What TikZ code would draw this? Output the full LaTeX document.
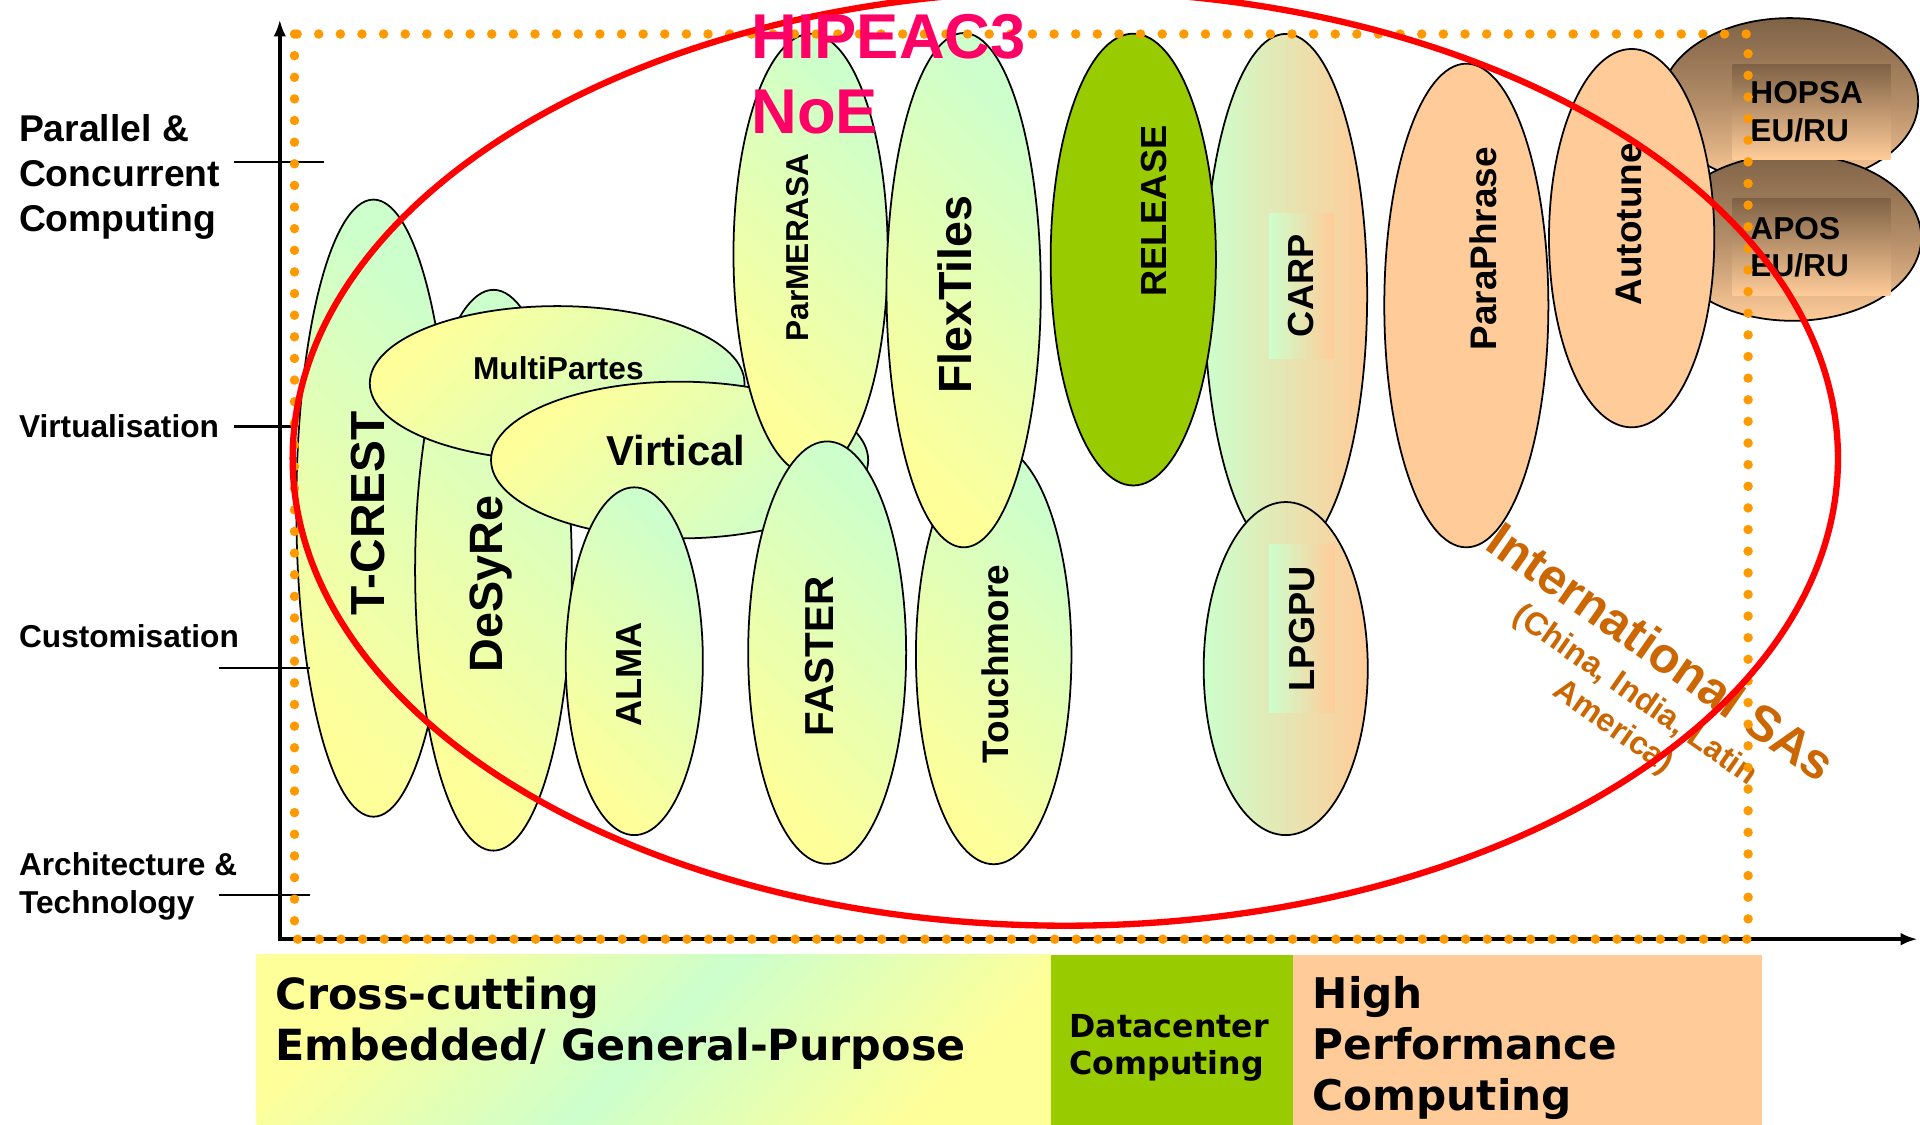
\documentclass[tikz,border=0pt]{standalone}
\usepackage{fontspec}
\setmainfont{Liberation Sans}
\newfontfamily\dvsans{DejaVu Sans}
\usepackage{graphicx}
\usetikzlibrary{shapes.geometric,arrows.meta}

\definecolor{pyellow}{HTML}{FFFF99}
\definecolor{pgreen}{HTML}{CCFFCC}
\definecolor{porange}{HTML}{FFCC99}
\definecolor{dcgreen}{HTML}{99CC00}
\definecolor{pbrown}{HTML}{7F6246}
\definecolor{dotorange}{HTML}{FF9900}
\definecolor{noepink}{HTML}{FF0066}
\definecolor{intlbrown}{HTML}{CC6600}

\newlength{\dpx}
\setlength{\dpx}{0.012245cm}
\newcommand{\fsz}[2]{\fontsize{#1}{#2}\selectfont}

\tikzset{
  sz/.style 2 args={minimum width=#1\dpx, minimum height=#2\dpx},
  proj/.style={ellipse, draw=black, line width=0.5pt, inner sep=0pt},
  vproj/.style={proj, top color=pgreen, bottom color=pyellow, shading angle=-45},
  hproj/.style={proj, top color=pyellow, bottom color=pgreen, shading angle=45},
  mproj/.style={proj, left color=pgreen, right color=porange},
  rproj/.style={proj, fill=dcgreen},
  oproj/.style={proj, fill=porange},
  bproj/.style={proj, top color=pbrown, bottom color=porange, middle color=porange!40!pbrown},
  vlbl/.style={rotate=90, anchor=base, inner sep=0pt, font=\bfseries\fsz{#1}{#1}},
  hlbl/.style={anchor=base, inner sep=0pt, font=\bfseries\fsz{#1}{#1}},
  axlbl/.style 2 args={anchor=north west, inner sep=0pt, align=left, font=\bfseries\fsz{#1}{#2}},
  areabox/.style={rectangle, anchor=north west, inner sep=0pt},
  areatxt/.style 2 args={anchor=north west, inner sep=0pt, align=left, font=\dvsans\bfseries\fsz{#1}{#2}},
  tbox/.style={rectangle, inner sep=0pt, top color=pbrown, bottom color=porange},
  cbox/.style={rectangle, inner sep=0pt, left color=pgreen, right color=porange, font=\bfseries\fsz{10.3}{10.3}},
}

\begin{document}
\begin{tikzpicture}[x=0.012245cm,y=-0.012245cm,>={Latex[length=4.8pt,width=3.6pt]}]
  \useasboundingbox (0,0) rectangle (1568,918);
  \clip (0,0) rectangle (1568,918);

  % areas along the bottom
  \node[areabox, top color=pyellow, bottom color=pyellow, middle color=pgreen, shading angle=45, sz={649}{140}] (embbox) at (209,779) {};
  \node[areabox, fill=dcgreen, sz={197}{140}] (dcbox) at (858,779) {};
  \node[areabox, fill=porange, sz={383.7}{140}] (hpcbox) at (1055,779) {};
  \node[areatxt={12.2}{14.5}] (emb-l) at (224.5,797) {Cross-cutting\\Embedded/ General-Purpose};
  \node[areatxt={9}{10.5}] (dc-l) at (873,828) {Datacenter\\Computing};
  \node[areatxt={12}{14.5}] (hpc-l) at (1071.5,797) {High\\Performance\\Computing};

  % projects
  \node[vproj, sz={126}{504}] (tcrest) at (305,415) {};
  \node[vproj, sz={128}{458}] (desyre) at (403,465.7) {};
  \node[hproj, sz={306}{126}] (multipartes) at (455,313) {};
  \node[hproj, sz={308}{128}] (virtical) at (555,375.7) {};
  \node[vproj, sz={112}{284}] (alma) at (518,540) {};
  \node[vproj, sz={126}{360}] (parmerasa) at (662,207.6) {};
  \node[vproj, sz={129}{345}] (faster) at (675.5,533) {};
  \node[vproj, sz={127}{342}] (touchmore) at (811.5,534.8) {};
  \node[vproj, sz={126}{420}] (flextiles) at (787,237) {};
  \node[mproj, sz={133}{426}] (carp) at (1050,240.7) {};
  \node[rproj, sz={135}{369}] (release) at (925.5,212) {};
  \node[mproj, sz={134}{272}] (lpgpu) at (1050,546) {};
  \node[oproj, sz={134}{395}] (paraphrase) at (1197.5,249.5) {};
  \node[bproj, sz={210}{136}] (hopsa) at (1461.5,82.8) {};
  \node[bproj, sz={210}{136}] (apos) at (1464,194) {};
  \node[oproj, sz={135}{309}] (autotune) at (1332.5,194.5) {};

  \node[vlbl=13.6] (tcrest-l) at (314.4,419.5) {T-CREST};
  \node[vlbl=13.3] (desyre-l) at (410.6,477) {DeSyRe};
  \node[hlbl=9] (multipartes-l) at (456,310.3) {MultiPartes};
  \node[hlbl=11.9] (virtical-l) at (552,380.5) {Virtical};
  \node[vlbl=10.3] (alma-l) at (523.8,550.8) {ALMA};
  \node[vlbl=9] (parmerasa-l) at (660,202) {ParMERASA};
  \node[vlbl=11.5] (faster-l) at (680.8,536) {FASTER};
  \node[vlbl=10.5] (touchmore-l) at (824,542.4) {Touchmore};
  \node[vlbl=13.25] (flextiles-l) at (793.5,240.6) {FlexTiles};
  \node[vlbl=10.3] (release-l) at (952.5,172.4) {RELEASE};
  \node[cbox, sz={52.5}{118.7}] (carp-l) at (1062.7,233.4) {\rotatebox{90}{CARP}};
  \node[cbox, sz={53.5}{137}] (lpgpu-l) at (1063,513.5) {\rotatebox{90}{LPGPU}};
  \node[vlbl=10.5] (paraphrase-l) at (1222.5,203.2) {ParaPhrase};
  \node[vlbl=10.5] (autotune-l) at (1340.5,183.2) {Autotune};
  \node[tbox, text width=100\dpx, inner xsep=14.5\dpx, minimum height=77\dpx, align=left, font=\bfseries\fsz{9}{10.7}] (hopsa-l) at (1479.5,91.4) {HOPSA\\EU/RU};
  \node[tbox, text width=100\dpx, inner xsep=14.5\dpx, minimum height=79\dpx, align=left, font=\bfseries\fsz{9}{10.7}] (apos-l) at (1479.5,202) {APOS\\EU/RU};

  % levels
  \node[axlbl={10.6}{12.8}] (par-l) at (15,93) {Parallel \&\\Concurrent\\Computing};
  \node[axlbl={9}{10.8}] (virt-l) at (15,338) {Virtualisation};
  \node[axlbl={9}{10.8}] (cust-l) at (15,509.3) {Customisation};
  \node[axlbl={9}{10.8}] (arch-l) at (15,695.9) {Architecture \&\\Technology};
  \draw[line width=0.6pt] (191.5,132.5) -- (265,132.5);
  \draw[line width=0.6pt] (191.5,348.3) -- (240,348.3);
  \draw[line width=0.6pt] (179,545.9) -- (253,545.9);
  \draw[line width=0.6pt] (179,731) -- (253,731);

  \coordinate (ytip) at (228.5,16);
  \coordinate (xtip) at (1566,767);
  \draw[<->,line width=1pt] (ytip) |- (xtip);

  \node[rotate=-35, inner sep=0pt, text=intlbrown, font=\bfseries\fsz{14.2}{14.2}] (intl) at (1357,532) {International SAs};
  \node[rotate=-35, inner sep=0pt, align=center, text=intlbrown, font=\bfseries\fsz{9.2}{11}] (intl-sub) at (1326,581.4) {(China, India, Latin\\America)};

  \draw[dotorange, line width=2.7pt, line cap=round, dash pattern=on 0pt off 6.15pt] (240.5,27.8) rectangle (1427.6,767);

  \node[ellipse, draw=red, line width=1.8pt, inner sep=0pt, sz={1262}{763.4}] (noe) at (870,374.3) {};
  \node[anchor=north west, inner sep=0pt, align=left, text=noepink, font=\bfseries\fsz{18}{21.3}] (noe-l) at (613,10.9) {HIPEAC3\\NoE};
\end{tikzpicture}
\end{document}
